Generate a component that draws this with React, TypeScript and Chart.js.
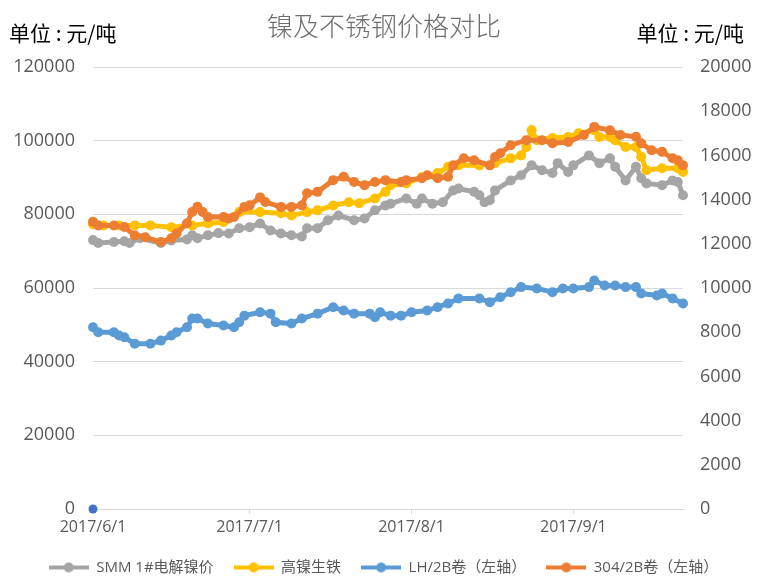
import { useEffect, useRef } from 'react';
import { Chart, registerables } from 'chart.js';

Chart.register(...registerables);

const FONT = "'Open Sans', 'Noto Sans CJK SC', sans-serif";
const CJK = "'Noto Sans CJK SC', sans-serif";

const titleText = '镍及不锈钢价格对比';
const unitText = '单位 : 元/吨';

// x values are days since 2017/6/1
const tickDays = [0, 30, 61, 92];
const tickLabels = ['2017/6/1', '2017/7/1', '2017/8/1', '2017/9/1'];

const seriesNames = ['SMM 1#电解镍价', '高镍生铁', 'LH/2B卷（左轴）', '304/2B卷（左轴）'];
const seriesColors = ['#A5A5A5', '#FFC000', '#5B9BD5', '#ED7D31'];

const smmDays = [0, 1, 4, 6, 7, 9, 13, 15, 18, 19, 20, 22, 24, 26, 28, 30, 32, 34, 36, 38, 40, 41, 43, 45, 47, 50, 52, 54, 56, 57, 60, 62, 63, 65, 67, 69, 70, 73, 74, 75, 76, 77, 80, 82, 84, 86, 88, 89, 91, 92, 95, 97, 99, 100, 102, 104, 105, 106, 109, 111, 112, 113];
const smmValues = [73000, 72200, 72500, 72700, 72200, 73500, 72200, 72900, 73200, 74300, 73500, 74300, 74900, 74800, 76200, 76500, 77500, 75600, 74800, 74300, 74000, 76200, 76200, 78400, 79700, 78400, 78900, 81100, 82400, 82900, 84300, 82900, 84300, 82900, 83300, 86500, 87000, 86100, 85200, 83300, 83800, 86500, 89200, 90600, 93300, 92000, 91200, 93900, 91500, 93300, 96000, 93900, 95200, 92900, 89200, 92900, 89800, 88400, 87900, 89200, 88800, 85200];

const npiDays = [0, 2, 5, 8, 11, 15, 19, 22, 25, 28, 32, 36, 38, 41, 43, 46, 49, 51, 54, 56, 57, 60, 63, 66, 68, 70, 74, 77, 80, 82, 83, 84, 85, 88, 91, 93, 96, 97, 99, 100, 102, 104, 105, 106, 109, 112, 113];
const npiValues = [77300, 77000, 77000, 77000, 77000, 76500, 77000, 77500, 77900, 80600, 80600, 80300, 79700, 80600, 81100, 82400, 83300, 83000, 84300, 86100, 87900, 88400, 90100, 91200, 92900, 93300, 93300, 93900, 95200, 96000, 98300, 102800, 100100, 100700, 101000, 102000, 102800, 101000, 101000, 100100, 98300, 98300, 95600, 92000, 92500, 92500, 91500];

const lhDays = [0, 1, 4, 5, 6, 8, 11, 13, 15, 16, 18, 19, 20, 22, 25, 27, 28, 29, 32, 34, 35, 38, 40, 43, 46, 48, 50, 53, 54, 55, 57, 59, 61, 64, 66, 68, 70, 74, 76, 78, 80, 82, 85, 88, 90, 92, 95, 96, 98, 100, 102, 104, 105, 108, 109, 111, 113];
const lhValues = [8220, 8000, 8000, 7850, 7770, 7480, 7480, 7620, 7850, 8000, 8220, 8620, 8620, 8390, 8300, 8220, 8450, 8750, 8900, 8840, 8450, 8390, 8620, 8840, 9130, 8980, 8840, 8840, 8680, 8900, 8750, 8750, 8900, 8980, 9130, 9300, 9530, 9530, 9360, 9580, 9810, 10040, 9980, 9810, 9980, 9980, 10040, 10340, 10110, 10110, 10040, 10040, 9750, 9660, 9750, 9530, 9300];

const ssDays = [0, 1, 4, 6, 8, 10, 13, 15, 16, 18, 19, 20, 21, 22, 25, 26, 27, 29, 30, 32, 33, 36, 38, 40, 41, 43, 46, 48, 50, 52, 54, 56, 59, 60, 63, 64, 66, 68, 69, 71, 73, 76, 77, 78, 80, 83, 86, 88, 91, 94, 96, 99, 101, 104, 105, 107, 109, 111, 112, 113];
const ssValues = [13000, 12830, 12830, 12760, 12380, 12300, 12080, 12250, 12470, 12930, 13440, 13680, 13440, 13210, 13210, 13150, 13210, 13670, 13740, 14100, 13890, 13670, 13670, 13740, 14290, 14350, 14880, 15030, 14800, 14650, 14800, 14880, 14800, 14880, 14970, 15100, 14970, 15030, 15550, 15870, 15780, 15550, 15930, 16100, 16460, 16690, 16690, 16550, 16610, 16920, 17290, 17140, 16920, 16840, 16550, 16230, 16160, 15870, 15780, 15550];

const strayDays = [0];
const strayValues = [0];

const toPoints = (days: number[], vals: number[]) => days.map((d, i) => ({ x: d, y: vals[i] }));

function makeIcon(color: string) {
  const c = document.createElement('canvas');
  c.width = 40;
  c.height = 12;
  const g = c.getContext('2d')!;
  g.strokeStyle = color;
  g.lineWidth = 4;
  g.beginPath();
  g.moveTo(0, 6);
  g.lineTo(40, 6);
  g.stroke();
  g.fillStyle = color;
  g.beginPath();
  g.arc(20, 6, 5, 0, Math.PI * 2);
  g.fill();
  return c;
}

const textPlugin = {
  id: 'pageTexts',
  afterDraw(chart: any) {
    const ctx = chart.ctx;
    ctx.save();
    ctx.textBaseline = 'middle';
    ctx.fillStyle = '#6E6E6E';
    ctx.font = `300 26px ${CJK}`;
    ctx.textAlign = 'center';
    ctx.fillText(titleText, 384, 26);
    ctx.fillStyle = '#000000';
    ctx.font = `21px ${CJK}`;
    ctx.textAlign = 'left';
    ctx.fillText(unitText, 9, 33);
    ctx.textAlign = 'right';
    ctx.fillText(unitText, 744, 33);
    ctx.restore();
  },
};

export default function App() {
  const ref = useRef<HTMLCanvasElement>(null);

  useEffect(() => {
    if (!ref.current) return;
    const icons = seriesColors.map(makeIcon);
    const line = (i: number, days: number[], vals: number[], axis: string, order: number) => ({
      label: seriesNames[i],
      data: toPoints(days, vals),
      yAxisID: axis,
      borderColor: seriesColors[i],
      backgroundColor: seriesColors[i],
      borderWidth: 5,
      pointRadius: 5,
      pointBorderWidth: 0,
      pointHoverRadius: 5,
      tension: 0,
      order,
      clip: false as any,
    });
    const chart = new Chart(ref.current, {
      type: 'line',
      data: {
        datasets: [
          line(0, smmDays, smmValues, 'y', 4),
          line(1, npiDays, npiValues, 'y', 3),
          line(2, lhDays, lhValues, 'y2', 2),
          line(3, ssDays, ssValues, 'y2', 1),
          {
            label: '',
            data: toPoints(strayDays, strayValues),
            yAxisID: 'y',
            showLine: false,
            borderColor: '#4472C4',
            backgroundColor: '#4472C4',
            pointRadius: 4.5,
            pointBorderWidth: 0,
            order: 0,
            clip: false as any,
          },
        ],
      },
      options: {
        animation: false,
        responsive: false,
        events: [],
        layout: { padding: { top: 67, left: 0, right: 0, bottom: 0 } },
        scales: {
          x: {
            type: 'linear',
            min: 0,
            max: 113,
            afterBuildTicks: (s: any) => {
              s.ticks = tickDays.map((v) => ({ value: v }));
            },
            afterFit: (s: any) => {
              s.height = 31;
            },
            ticks: {
              callback: (v: any) => {
                const i = tickDays.indexOf(Number(v));
                return i >= 0 ? tickLabels[i] : '';
              },
              autoSkip: false,
              maxRotation: 0,
              padding: 4,
              color: '#595959',
              font: { family: FONT, size: 16 },
            },
            grid: { drawOnChartArea: false, drawTicks: true, tickLength: 5, color: '#D9D9D9' },
            border: { color: '#D9D9D9' },
          },
          y: {
            position: 'left',
            min: 0,
            max: 120000,
            afterFit: (s: any) => {
              s.width = 93;
            },
            ticks: {
              stepSize: 20000,
              padding: 18,
              color: '#595959',
              font: { family: FONT, size: 18 },
              callback: (v: any) => String(v),
            },
            grid: { color: '#D9D9D9', drawTicks: false },
            border: { display: false },
          },
          y2: {
            position: 'right',
            min: 0,
            max: 20000,
            afterFit: (s: any) => {
              s.width = 84;
            },
            ticks: {
              stepSize: 2000,
              padding: 17,
              color: '#595959',
              font: { family: FONT, size: 18 },
              callback: (v: any) => String(v),
            },
            grid: { drawOnChartArea: false, drawTicks: false },
            border: { display: false },
          },
        },
        plugins: {
          title: { display: false },
          tooltip: { enabled: false },
          legend: {
            position: 'bottom',
            labels: {
              usePointStyle: true,
              pointStyleWidth: 40,
              padding: 20,
              color: '#595959',
              font: { family: FONT, size: 15 },
              filter: (item: any) => item.datasetIndex < 4,
              sort: (a: any, b: any) => a.datasetIndex - b.datasetIndex,
              generateLabels: (c: any) => {
                const items = (Chart.defaults.plugins.legend.labels as any).generateLabels(c);
                items.forEach((it: any) => {
                  if (it.datasetIndex < 4) it.pointStyle = icons[it.datasetIndex];
                });
                return items;
              },
            },
          },
        },
      } as any,
      plugins: [textPlugin],
    });
    return () => chart.destroy();
  }, []);

  return (
    <div style={{ position: 'absolute', left: 0, top: 0, width: 767, height: 585, background: '#fff' }}>
      <canvas ref={ref} width={767} height={585} />
    </div>
  );
}
